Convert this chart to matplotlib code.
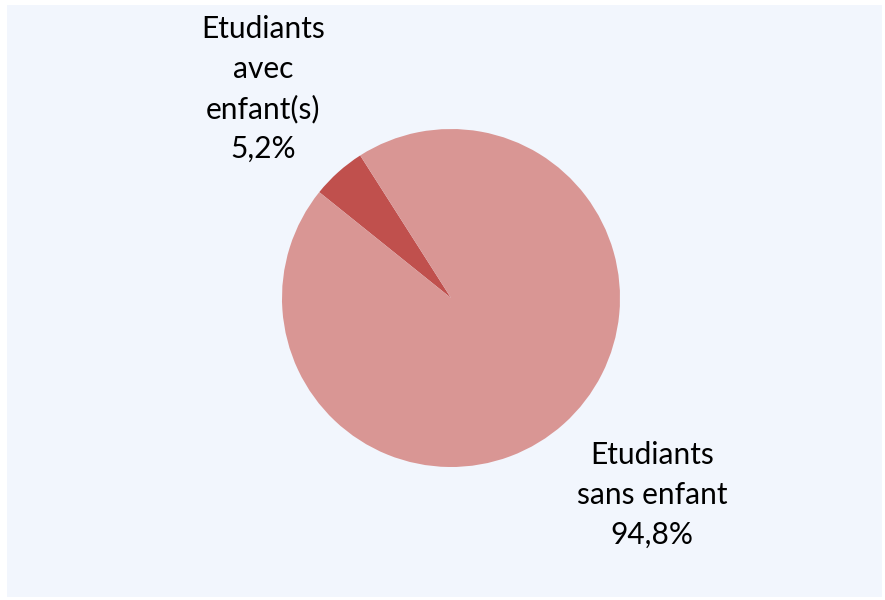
import matplotlib.pyplot as plt
from matplotlib.patches import Rectangle

labels = ["Etudiants\navec\nenfant(s)", "Etudiants\nsans enfant"]
values = [5.2, 94.8]
colors = ["#C0504D", "#D99694"]

plt.rcParams['font.family'] = ['Lato', 'DejaVu Sans']

fig = plt.figure(figsize=(8.85, 6), dpi=100)
ax = fig.add_axes([0, 0, 1, 1])

# light blue chart area
ax.add_patch(Rectangle((7, 3), 875, 592, facecolor="#F2F6FD", edgecolor="none", zorder=0))

ax.pie(values, colors=colors, startangle=122.5, counterclock=True,
       center=(451, 302), radius=169, frame=True,
       wedgeprops=dict(linewidth=0))
ax.set_xlim(0, 885)
ax.set_ylim(0, 600)
ax.set_aspect("equal")
ax.axis("off")

txt1 = labels[0] + "\n" + ("%.1f%%" % values[0]).replace(".", ",")
txt2 = labels[1] + "\n" + ("%.1f%%" % values[1]).replace(".", ",")
ax.text(263, 600 - 89, txt1, ha="center", va="center", fontsize=21.5, linespacing=1.5)
ax.text(652, 600 - 495, txt2, ha="center", va="center", fontsize=21.5, linespacing=1.5)

fig.savefig("out.png", dpi=100)
